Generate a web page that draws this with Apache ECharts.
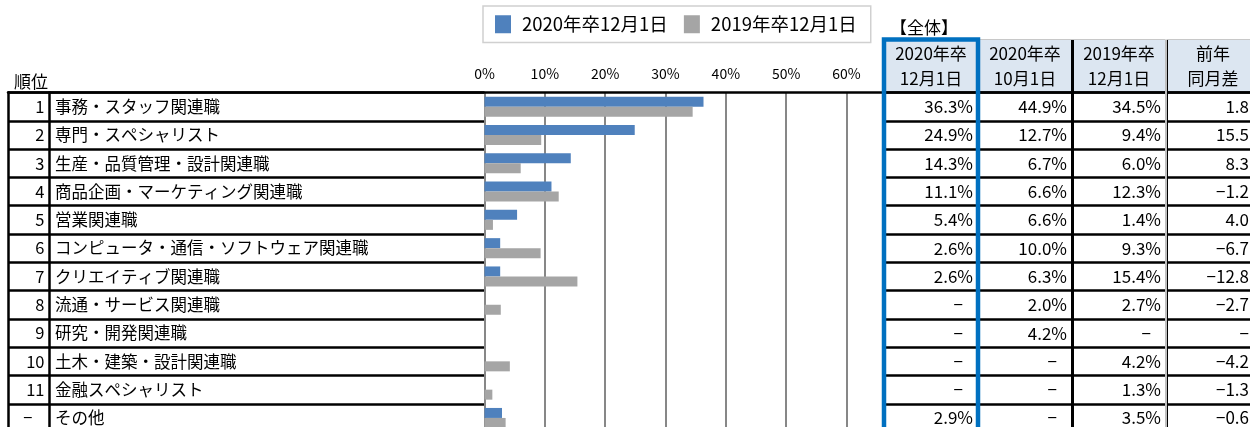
<!DOCTYPE html>
<html>
<head>
<meta charset="utf-8">
<script src="https://cdn.jsdelivr.net/npm/echarts@6/dist/echarts.min.js"></script>
<style>
  html, body { margin: 0; padding: 0; background: #fff; }
  #chart { width: 1250px; height: 427px; }
</style>
</head>
<body>
<div id="chart"></div>
<script>
// data
const ranks = ['1', '2', '3', '4', '5', '6', '7', '8', '9', '10', '11', '－']
const jobs = [
  '事務・スタッフ関連職',
  '専門・スペシャリスト',
  '生産・品質管理・設計関連職',
  '商品企画・マーケティング関連職',
  '営業関連職',
  'コンピュータ・通信・ソフトウェア関連職',
  'クリエイティブ関連職',
  '流通・サービス関連職',
  '研究・開発関連職',
  '土木・建築・設計関連職',
  '金融スペシャリスト',
  'その他'
]
const dec2020 = [36.3, 24.9, 14.3, 11.1, 5.4, 2.6, 2.6, null, null, null, null, 2.9]
const oct2020 = [44.9, 12.7, 6.7, 6.6, 6.6, 10.0, 6.3, 2.0, 4.2, null, null, null]
const dec2019 = [34.5, 9.4, 6.0, 12.3, 1.4, 9.3, 15.4, 2.7, null, 4.2, 1.3, 3.5]
const diffYoY = [1.8, 15.5, 8.3, -1.2, 4.0, -6.7, -12.8, -2.7, null, -4.2, -1.3, -0.6]
const seriesNames = ['2020年卒12月1日', '2019年卒12月1日']
const headers = ['2020年卒\n12月1日', '2020年卒\n10月1日', '2019年卒\n12月1日', '前年\n同月差']
const xMax = 60
const xStep = 10

const FONT = "'Noto Sans CJK JP', 'Noto Sans', sans-serif"
const TOP = 92.5
const ROW_H = 28.3
const H = ROW_H * jobs.length
const COL_L = 884
const COL_W = 94
const HEAD_TOP = 39.5
const RANK_W = 41.5

const pct = v => (v == null ? '{d|−}' : v.toFixed(1) + '%')
const signed = v => (v == null ? '−' : (v < 0 ? '−' + Math.abs(v).toFixed(1) : v.toFixed(1)))
const tableCols = [dec2020.map(pct), oct2020.map(pct), dec2019.map(pct), diffYoY.map(signed)]
const colMargins = [5, 5, 5, 11]

const noLine = { show: false }
const blackLine = w => ({ show: true, onZero: false, lineStyle: { color: '#000', width: w } })
const txt = { color: '#000', fontFamily: FONT }

let chart = echarts.init(document.getElementById('chart'))

const grids = [
  // 0 bars
  { left: 484.5, top: TOP, width: 362, height: H },
  // 1 left table
  { left: 8, top: TOP, width: 476.5, height: H },
  // 2 right table body
  { left: COL_L, top: TOP, width: COL_W * 4, height: H },
  // 3 right table header
  { left: COL_L, top: HEAD_TOP, width: COL_W * 4, height: TOP - HEAD_TOP, show: true, backgroundColor: '#dce6f1', borderWidth: 0 },
  // 4 frame top line
  { left: 8, top: TOP, width: COL_L - 8, height: H }
].map(g => Object.assign({ containLabel: false, outerBoundsMode: 'none' }, g))

const xAxes = [
  {
    gridIndex: 0, type: 'value', position: 'top', min: 0, max: xMax, interval: xStep,
    axisLine: noLine, axisTick: noLine,
    axisLabel: Object.assign({ formatter: '{value}%', fontSize: 14, margin: 12 }, txt),
    splitLine: { show: true, lineStyle: { color: '#878787', width: 2 } }
  },
  { gridIndex: 1, type: 'value', min: 0, max: 1, show: false },
  {
    gridIndex: 2, type: 'category', position: 'top', data: headers,
    axisLine: blackLine(2.5), axisTick: noLine,
    axisLabel: Object.assign({ interval: 0, fontSize: 17, lineHeight: 25, margin: 1, align: 'center' }, txt),
    splitLine: { show: true, interval: 0, lineStyle: { color: '#000', width: 3 } }
  },
  {
    gridIndex: 3, type: 'category', position: 'top', data: headers,
    axisLine: { show: true, onZero: false, lineStyle: { color: '#c8c8c8', width: 1 } }, axisTick: noLine,
    axisLabel: { show: false },
    splitLine: { show: true, interval: 0, lineStyle: { color: '#000', width: 3 } }
  },
  {
    gridIndex: 4, type: 'value', position: 'top', min: 0, max: 1,
    axisLine: blackLine(2.5), axisTick: noLine, axisLabel: { show: false }, splitLine: noLine
  }
]

const yAxes = [
  {
    gridIndex: 0, type: 'category', inverse: true, data: jobs,
    axisLine: noLine, axisTick: noLine, axisLabel: { show: false }, splitLine: noLine
  },
  {
    // job names, outer border and row lines
    gridIndex: 1, type: 'category', inverse: true, data: jobs, position: 'left',
    axisLine: blackLine(2.5), axisTick: noLine,
    axisLabel: Object.assign({ inside: true, interval: 0, margin: RANK_W + 5.5, fontSize: 16.5 }, txt),
    splitLine: { show: true, interval: 0, lineStyle: { color: '#000', width: 2.5 } }
  },
  {
    // rank column and its divider
    gridIndex: 1, type: 'category', inverse: true, data: ranks, position: 'left', offset: -RANK_W,
    axisLine: blackLine(2.5), axisTick: noLine,
    axisLabel: Object.assign({
      interval: 0, margin: 5, fontSize: 16.5,
      formatter: v => (v === '－' ? '{d|−}' : v),
      rich: { d: { padding: [0, 12, 0, 0], fontSize: 16.5, fontFamily: FONT, color: '#000' } }
    }, txt),
    splitLine: noLine
  }
]

tableCols.forEach((col, c) => {
  yAxes.push({
    gridIndex: 2, type: 'category', inverse: true, data: jobs, position: 'right',
    offset: -(3 - c) * COL_W,
    axisLine: noLine, axisTick: noLine,
    axisLabel: Object.assign({
      inside: true, interval: 0, margin: colMargins[c], fontSize: 17,
      formatter: (v, i) => col[i],
      rich: { d: { padding: [0, 10, 0, 0], fontSize: 17, fontFamily: FONT, color: '#000' } }
    }, txt),
    splitLine: c === 0 ? { show: true, interval: 0, lineStyle: { color: '#000', width: 2.5 } } : noLine
  })
})
yAxes.push({ gridIndex: 3, type: 'value', show: false, min: 0, max: 1 })
yAxes.push({ gridIndex: 4, type: 'value', show: false, min: 0, max: 1 })

chart.setOption({
  animation: false,
  title: [
    { text: '【全体】', left: 885, top: 14, textStyle: Object.assign({ fontSize: 17, fontWeight: 'normal' }, txt) },
    { text: '順位', left: 9, top: 68, textStyle: Object.assign({ fontSize: 17, fontWeight: 'normal' }, txt) }
  ],
  legend: {
    left: 483, top: 6,
    data: seriesNames,
    icon: 'rect', itemWidth: 16, itemHeight: 18, itemGap: 16,
    padding: [9, 14, 9, 12],
    borderColor: '#d0d0d0', borderWidth: 1.5,
    textStyle: Object.assign({ fontSize: 18.5, padding: [0, 0, 0, 6] }, txt)
  },
  grid: grids,
  xAxis: xAxes,
  yAxis: yAxes,
  series: [
    {
      name: seriesNames[0], type: 'bar', xAxisIndex: 0, yAxisIndex: 0,
      data: dec2020, barWidth: 10, barGap: '0%',
      itemStyle: { color: '#4f81bd' }
    },
    {
      name: seriesNames[1], type: 'bar', xAxisIndex: 0, yAxisIndex: 0,
      data: dec2019, barWidth: 10, barGap: '0%',
      itemStyle: { color: '#a5a5a5' }
    }
  ],
  graphic: [
    {
      type: 'line', z: 100,
      shape: { x1: COL_L + COL_W * 3, y1: HEAD_TOP, x2: COL_L + COL_W * 3, y2: TOP + H },
      style: { stroke: '#fff', lineWidth: 1.5 }
    },
    {
      type: 'rect', z: 101,
      shape: { x: COL_L, y: HEAD_TOP, width: COL_W, height: H + 60 },
      style: { fill: 'none', stroke: '#0070c0', lineWidth: 4.5 }
    }
  ]
})
</script>
</body>
</html>
